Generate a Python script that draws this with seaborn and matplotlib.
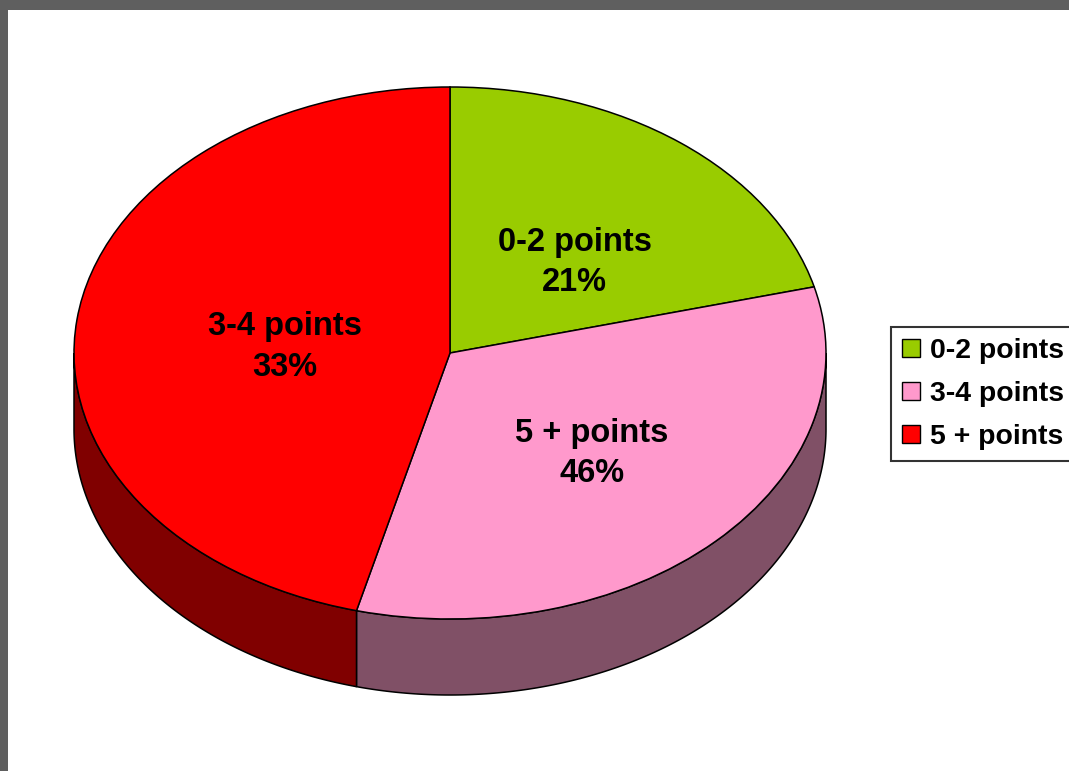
import numpy as np
import matplotlib
matplotlib.use("Agg")
import matplotlib.pyplot as plt
import matplotlib.transforms as mtransforms
from matplotlib.patches import Polygon, Rectangle
import seaborn as sns

# Data
categories = ["0-2 points", "3-4 points", "5 + points"]
shares = [21, 33, 46]
# labels as they sit on the slices in the original chart (one per slice, in slice order)
slice_labels = ["0-2 points\n21%", "5 + points\n46%", "3-4 points\n33%"]

top_colors = ["#99CC00", "#FF99CC", "#FF0000"]
side_colors = ["#4D6600", "#805066", "#800000"]

sns.set_style("white")
plt.rcParams['font.family'] = ['Liberation Sans', 'DejaVu Sans']
plt.rcParams['text.color'] = 'black'

W, H = 1069, 771
fig = plt.figure(figsize=(W / 100, H / 100), dpi=100)
fig.patch.set_facecolor("white")

# gray window frame on top / left
fig.patches.append(Rectangle((0, 1 - 10 / H), 1, 10 / H, transform=fig.transFigure,
                             facecolor="#5F5F5F", edgecolor="none", zorder=0))
fig.patches.append(Rectangle((0, 0), 8 / W, 1, transform=fig.transFigure,
                             facecolor="#5F5F5F", edgecolor="none", zorder=0))

ax = fig.add_axes([0, 0, 1, 1])
ax.patch.set_alpha(0)

# ellipse geometry (pixels): center, semi axes, depth of the 3D side
cx, cy, rx, ry, depth = 450, 353, 376, 266, 76

wedges, _ = ax.pie(shares, colors=top_colors, startangle=90, counterclock=False,
                   wedgeprops=dict(edgecolor="black", linewidth=1.1, zorder=2))
ax.set_aspect("auto")
ax.set_xlim(-cx / rx, (W - cx) / rx)
ax.set_ylim(-(H - cy) / ry, cy / ry)
ax.axis("off")

d = depth / ry
for w, sc in zip(wedges, side_colors):
    for k in (-360, 0, 360):
        a = max(w.theta1, -180 + k)
        b = min(w.theta2, 0 + k)
        if b <= a:
            continue
        t = np.radians(np.linspace(a, b, 200))
        top = np.column_stack([np.cos(t), np.sin(t)])
        bot = np.column_stack([np.cos(t[::-1]), np.sin(t[::-1]) - d])
        ax.add_patch(Polygon(np.vstack([top, bot]), closed=True, facecolor=sc,
                             edgecolor="black", linewidth=1.1, zorder=1))

# slice labels (nudged a little right/down like the original)
label_tr = mtransforms.offset_copy(ax.transData, fig=fig, x=14, y=-10, units="dots")
for w, lab in zip(wedges, slice_labels):
    mid = np.radians((w.theta1 + w.theta2) / 2)
    ax.text(0.48 * np.cos(mid), 0.48 * np.sin(mid), lab, ha="center", va="center",
            fontsize=23.5, fontweight="bold", linespacing=1.38, color="black",
            transform=label_tr, zorder=3)

leg = ax.legend(wedges, categories, loc="upper left",
                bbox_to_anchor=(891 / W, 1 - 327 / H), bbox_transform=fig.transFigure,
                borderaxespad=0, frameon=True, fancybox=False, shadow=False,
                prop=dict(size=20.4, weight="bold"), handlelength=0.63, handleheight=0.63,
                handletextpad=0.35, labelspacing=0.6, borderpad=0.38, labelcolor="black")
leg.get_frame().set_edgecolor("black")
leg.get_frame().set_linewidth(1.5)
for h in leg.legend_handles:
    h.set_linewidth(1.0)

fig.savefig("out.png", dpi=100)
